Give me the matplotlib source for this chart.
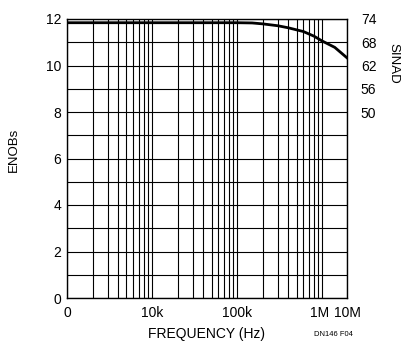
import matplotlib
matplotlib.use('Agg')
import matplotlib.pyplot as plt
import numpy as np

plt.rcParams['font.family'] = ['Liberation Sans', 'DejaVu Sans']

# Données
freq_hz = [1e3, 1e4, 1e5, 150e3, 200e3, 300e3, 400e3, 600e3, 800e3, 1e6, 1.4e6, 1.95e6]
enobs = [11.84, 11.84, 11.84, 11.83, 11.79, 11.71, 11.62, 11.46, 11.26, 11.05, 10.78, 10.33]

x_tick_pos = [1e3, 1e4, 1e5, 1e6, 1.95e6]
x_tick_labels = ['0', '10k', '100k', '1M', '10M']
enob_ticks = [0, 2, 4, 6, 8, 10, 12]
sinad_pos = [12, 11, 10, 9, 8]
sinad_labels = ['74', '68', '62', '56', '50']

fig = plt.figure(figsize=(4.02, 3.43), dpi=100)
ax1 = fig.add_axes([67 / 402, 1 - 298 / 343, 280 / 402, 279 / 343])

ax1.set_xscale('log')
ax1.set_xlim(1e3, 1.95e6)
ax1.set_ylim(0, 12)

# grille
minor_x = [m * 10 ** d for d in (3, 4, 5) for m in range(2, 10)]
ax1.set_xticks(minor_x, minor=True)
ax1.set_xticks(x_tick_pos)
ax1.set_xticklabels(x_tick_labels)
ax1.set_xticklabels([], minor=True)
ax1.set_yticks(enob_ticks)
ax1.set_yticks([1, 3, 5, 7, 9, 11], minor=True)
ax1.grid(True, which='both', color='black', linewidth=0.8)
ax1.tick_params(which='both', length=0, labelsize=10, pad=4)
ax1.tick_params(axis='x', pad=6)
for s in ax1.spines.values():
    s.set_linewidth(1.0)
# écarter un peu 1M de 10M
xt = ax1.get_xticklabels()
xt[3].set_horizontalalignment('center')
xt[3].set_x(1e6)
xt[3].set_transform(xt[3].get_transform() + matplotlib.transforms.ScaledTranslation(-3 / 100, 0, fig.dpi_scale_trans))

ax1.plot(freq_hz, enobs, color='black', linewidth=2.0)

ax1.set_ylabel('ENOBs', fontsize=9.5)
ax1.yaxis.set_label_coords(-0.17, 0.53)
ax1.set_xlabel('FREQUENCY (Hz)', fontsize=10, labelpad=5)

# axe droit SINAD
ax2 = ax1.twinx()
ax2.set_ylim(0, 12)
ax2.set_yticks(sinad_pos)
ax2.set_yticklabels(sinad_labels)
ax2.tick_params(length=0, labelsize=10, pad=10)
for s in ax2.spines.values():
    s.set_visible(False)
fig.text(393 / 402, 1 - 63 / 343, 'SINAD', rotation=270, fontsize=9.5,
         ha='center', va='center')

fig.text(333 / 402, 1 - 335 / 343, 'DN146 F04', fontsize=5.5, ha='center', va='center')

fig.savefig('out.png', dpi=100)
